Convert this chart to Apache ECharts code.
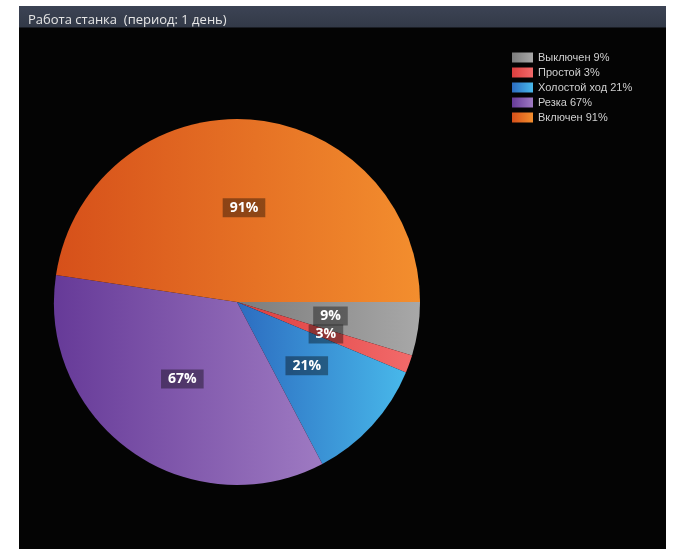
<!DOCTYPE html>
<html>
<head>
<meta charset="utf-8">
<script src="https://cdn.jsdelivr.net/npm/echarts@6/dist/echarts.min.js"></script>
<style>
html,body{margin:0;padding:0;background:#fff;}
#chart{width:673px;height:549px;}
</style>
</head>
<body>
<div id="chart"></div>
<script>
const titleText = 'Работа станка  (период: 1 день)';
const categories = ['Выключен', 'Простой', 'Холостой ход', 'Резка', 'Включен'];
const values = [9, 3, 21, 67, 91];
const colorsLeft = ['#7c7c7c', '#dc3e3e', '#2c6cc0', '#663a98', '#d6501a'];
const colorsRight = ['#a8a8a8', '#f26a6a', '#48b8ea', '#9e7ac2', '#f38e2e'];

const chart = echarts.init(document.getElementById('chart'));
const data = categories.map((name, i) => ({
  name: name,
  value: values[i],
  itemStyle: {
    color: new echarts.graphic.LinearGradient(0, 0, 1, 0, [
      {offset: 0, color: colorsLeft[i]},
      {offset: 1, color: colorsRight[i]}
    ])
  }
}));

chart.setOption({
  backgroundColor: '#ffffff',
  animation: false,
  graphic: [
    {type: 'rect', z: -10, shape: {x: 19, y: 28, width: 647, height: 521}, style: {fill: '#040404'}},
    {type: 'rect', z: -10, shape: {x: 19, y: 6, width: 647, height: 22},
     style: {fill: new echarts.graphic.LinearGradient(0, 0, 0, 1, [
       {offset: 0, color: '#3c4354'}, {offset: 1, color: '#323947'}])}},
    {type: 'rect', z: -9, shape: {x: 19, y: 27, width: 647, height: 1}, style: {fill: '#1a1d24'}}
  ],
  title: {
    text: titleText,
    left: 23, top: 9,
    textStyle: {color: '#e6e6e6', fontSize: 13, fontWeight: 'normal', fontFamily: 'Open Sans'}
  },
  legend: {
    orient: 'vertical',
    left: 512, top: 52,
    padding: 0,
    itemWidth: 21, itemHeight: 10, itemGap: 4,
    icon: 'rect',
    data: categories,
    formatter: function (name) {
      return name + ' ' + values[categories.indexOf(name)] + '%';
    },
    textStyle: {color: '#cfcfcf', fontSize: 11, lineHeight: 10, fontFamily: 'Liberation Sans', padding: [0, 0, 0, 0]}
  },
  series: [{
    type: 'pie',
    center: [237, 302],
    radius: [0, 183],
    startAngle: 0,
    clockwise: true,
    data: data,
    label: {
      show: true,
      position: 'inside',
      formatter: '{c}%',
      color: '#ffffff',
      fontSize: 14,
      fontWeight: 'bold',
      fontFamily: 'Open Sans',
      backgroundColor: 'rgba(0,0,0,0.38)',
      padding: [3, 7, 2, 7]
    },
    labelLayout: {hideOverlap: false},
    labelLine: {show: false},
    emphasis: {disabled: true}
  }]
});
</script>
</body>
</html>
